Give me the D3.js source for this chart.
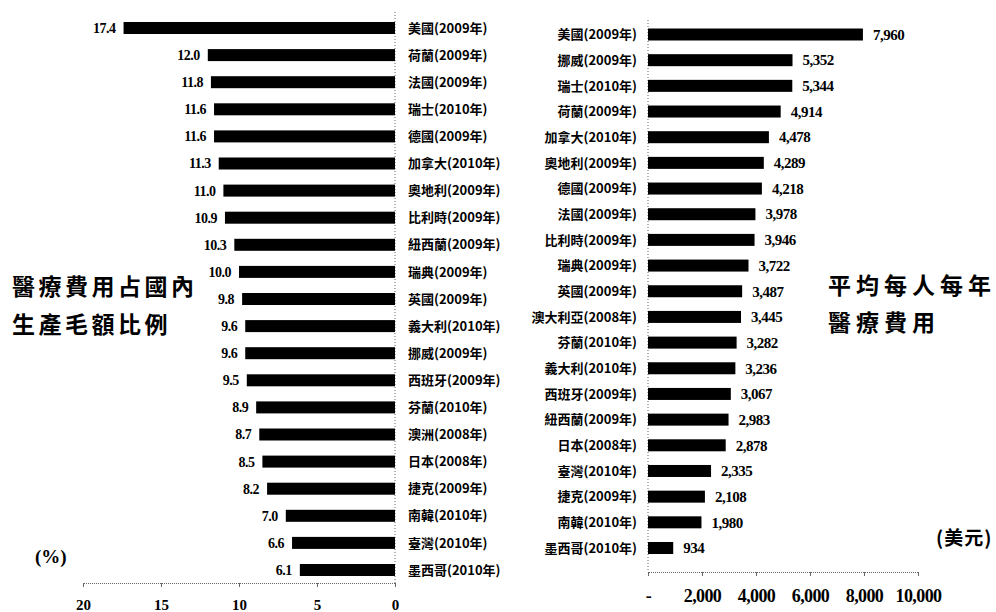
<!DOCTYPE html>
<html>
<head>
<meta charset="utf-8">
<script src="https://cdn.jsdelivr.net/npm/d3@7"></script>
<style>
  body { margin: 0; background: #fff; }
  svg { display: block; }
</style>
</head>
<body>
<svg id="canvas" width="996" height="612"></svg>
<script>
const width = 996
const height = 612

// left panel: medical spending as % of GDP
const leftCountries = ["美國(2009年)", "荷蘭(2009年)", "法國(2009年)", "瑞士(2010年)", "德國(2009年)",
    "加拿大(2010年)", "奧地利(2009年)", "比利時(2009年)", "紐西蘭(2009年)", "瑞典(2009年)",
    "英國(2009年)", "義大利(2010年)", "挪威(2009年)", "西班牙(2009年)", "芬蘭(2010年)",
    "澳洲(2008年)", "日本(2008年)", "捷克(2009年)", "南韓(2010年)", "臺灣(2010年)", "墨西哥(2010年)"]
const leftValues = [17.4, 12.0, 11.8, 11.6, 11.6, 11.3, 11.0, 10.9, 10.3, 10.0,
    9.8, 9.6, 9.6, 9.5, 8.9, 8.7, 8.5, 8.2, 7.0, 6.6, 6.1]
const leftTicks = [0, 5, 10, 15, 20]

// right panel: medical spending per person per year (USD)
const rightCountries = ["美國(2009年)", "挪威(2009年)", "瑞士(2010年)", "荷蘭(2009年)", "加拿大(2010年)",
    "奧地利(2009年)", "德國(2009年)", "法國(2009年)", "比利時(2009年)", "瑞典(2009年)",
    "英國(2009年)", "澳大利亞(2008年)", "芬蘭(2010年)", "義大利(2010年)", "西班牙(2009年)",
    "紐西蘭(2009年)", "日本(2008年)", "臺灣(2010年)", "捷克(2009年)", "南韓(2010年)", "墨西哥(2010年)"]
const rightValues = [7960, 5352, 5344, 4914, 4478, 4289, 4218, 3978, 3946, 3722,
    3487, 3445, 3282, 3236, 3067, 2983, 2878, 2335, 2108, 1980, 934]
const rightTicks = [0, 2000, 4000, 6000, 8000, 10000]

const barH = 12
const serif = "'Liberation Serif', 'DejaVu Serif', serif"
const cjk = "'Noto Sans CJK TC', 'Noto Sans CJK SC', sans-serif"

const canvas = d3.select("#canvas")

// ---------- left ----------
const xL = d3.scaleLinear().domain([0, 20]).range([395, 83])
const yL = d3.scalePoint().domain(leftCountries).range([28, 570])
const leftData = leftCountries.map((c, i) => ({ c: c, v: leftValues[i] }))

canvas.append("line")
    .attr("x1", xL(0)).attr("x2", xL(0))
    .attr("y1", 12).attr("y2", 583)
    .attr("stroke", "#666").attr("stroke-dasharray", "1,2")

canvas.selectAll(".barL").data(leftData).enter().append("rect")
    .attr("x", d => xL(d.v))
    .attr("y", d => yL(d.c) - barH / 2)
    .attr("width", d => xL(0) - xL(d.v))
    .attr("height", barH)
    .attr("fill", "#000")

canvas.selectAll(".valL").data(leftData).enter().append("text")
    .attr("x", d => xL(d.v) - 8)
    .attr("y", d => yL(d.c))
    .attr("dy", "0.35em")
    .attr("text-anchor", "end")
    .attr("font-family", serif)
    .attr("font-weight", "bold")
    .attr("font-size", 14)
    .attr("letter-spacing", -0.5)
    .text(d => d.v.toFixed(1))

canvas.selectAll(".catL").data(leftData).enter().append("text")
    .attr("x", 408)
    .attr("y", d => yL(d.c))
    .attr("dy", "0.36em")
    .attr("font-family", cjk)
    .attr("font-weight", "bold")
    .attr("font-size", 13)
    .text(d => d.c)

const axisL = canvas.append("g")
    .attr("transform", "translate(0,583)")
    .call(d3.axisBottom(xL).tickValues(leftTicks).tickSize(4).tickPadding(12))
axisL.select(".domain").attr("stroke", "#666").attr("stroke-dasharray", "1,1")
axisL.selectAll(".tick line").attr("stroke", "#666")
axisL.selectAll(".tick text")
    .attr("font-family", serif).attr("font-weight", "bold").attr("font-size", 15)
    .attr("fill", "#000")

// ---------- right ----------
const xR = d3.scaleLinear().domain([0, 10000]).range([648, 918])
const yR = d3.scalePoint().domain(rightCountries).range([34.5, 548])
const rightData = rightCountries.map((c, i) => ({ c: c, v: rightValues[i] }))

canvas.append("line")
    .attr("x1", xR(0)).attr("x2", xR(0))
    .attr("y1", 20).attr("y2", 572)
    .attr("stroke", "#666").attr("stroke-dasharray", "1,2")

canvas.selectAll(".barR").data(rightData).enter().append("rect")
    .attr("x", xR(0))
    .attr("y", d => yR(d.c) - barH / 2)
    .attr("width", d => xR(d.v) - xR(0))
    .attr("height", barH)
    .attr("fill", "#000")

canvas.selectAll(".valR").data(rightData).enter().append("text")
    .attr("x", d => xR(d.v) + 10)
    .attr("y", d => yR(d.c))
    .attr("dy", "0.35em")
    .attr("font-family", serif)
    .attr("font-weight", "bold")
    .attr("font-size", 15)
    .attr("letter-spacing", -0.5)
    .text(d => d3.format(",")(d.v))

canvas.selectAll(".catR").data(rightData).enter().append("text")
    .attr("x", 637)
    .attr("y", d => yR(d.c))
    .attr("dy", "0.36em")
    .attr("text-anchor", "end")
    .attr("font-family", cjk)
    .attr("font-weight", "bold")
    .attr("font-size", 13)
    .text(d => d.c)

const axisR = canvas.append("g")
    .attr("transform", "translate(0,572)")
    .call(d3.axisBottom(xR).tickValues(rightTicks).tickSize(4).tickPadding(13)
        .tickFormat(d => d === 0 ? "-" : d3.format(",")(d)))
axisR.select(".domain").attr("stroke", "#666").attr("stroke-dasharray", "1,1")
axisR.selectAll(".tick line").attr("stroke", "#666")
axisR.selectAll(".tick text")
    .attr("font-family", serif).attr("font-weight", "bold").attr("font-size", 18)
    .attr("letter-spacing", -0.6)
    .attr("fill", "#000")

// ---------- titles and units ----------
const titleL = canvas.append("text")
    .attr("font-family", cjk).attr("font-weight", "bold").attr("font-size", 23)
    .attr("letter-spacing", 3.5)
titleL.append("tspan").attr("x", 12).attr("y", 295).text("醫療費用占國內")
titleL.append("tspan").attr("x", 12).attr("y", 333).text("生產毛額比例")

const titleR = canvas.append("text")
    .attr("font-family", cjk).attr("font-weight", "bold").attr("font-size", 23)
    .attr("letter-spacing", 5)
titleR.append("tspan").attr("x", 828).attr("y", 294).text("平均每人每年")
titleR.append("tspan").attr("x", 828).attr("y", 331).text("醫療費用")

canvas.append("text")
    .attr("x", 35).attr("y", 563)
    .attr("font-family", serif).attr("font-weight", "bold").attr("font-size", 19)
    .text("(%)")

canvas.append("text")
    .attr("x", 936).attr("y", 545)
    .attr("font-family", cjk).attr("font-weight", "bold").attr("font-size", 19)
    .attr("letter-spacing", 1)
    .text("(美元)")
</script>
</body>
</html>
